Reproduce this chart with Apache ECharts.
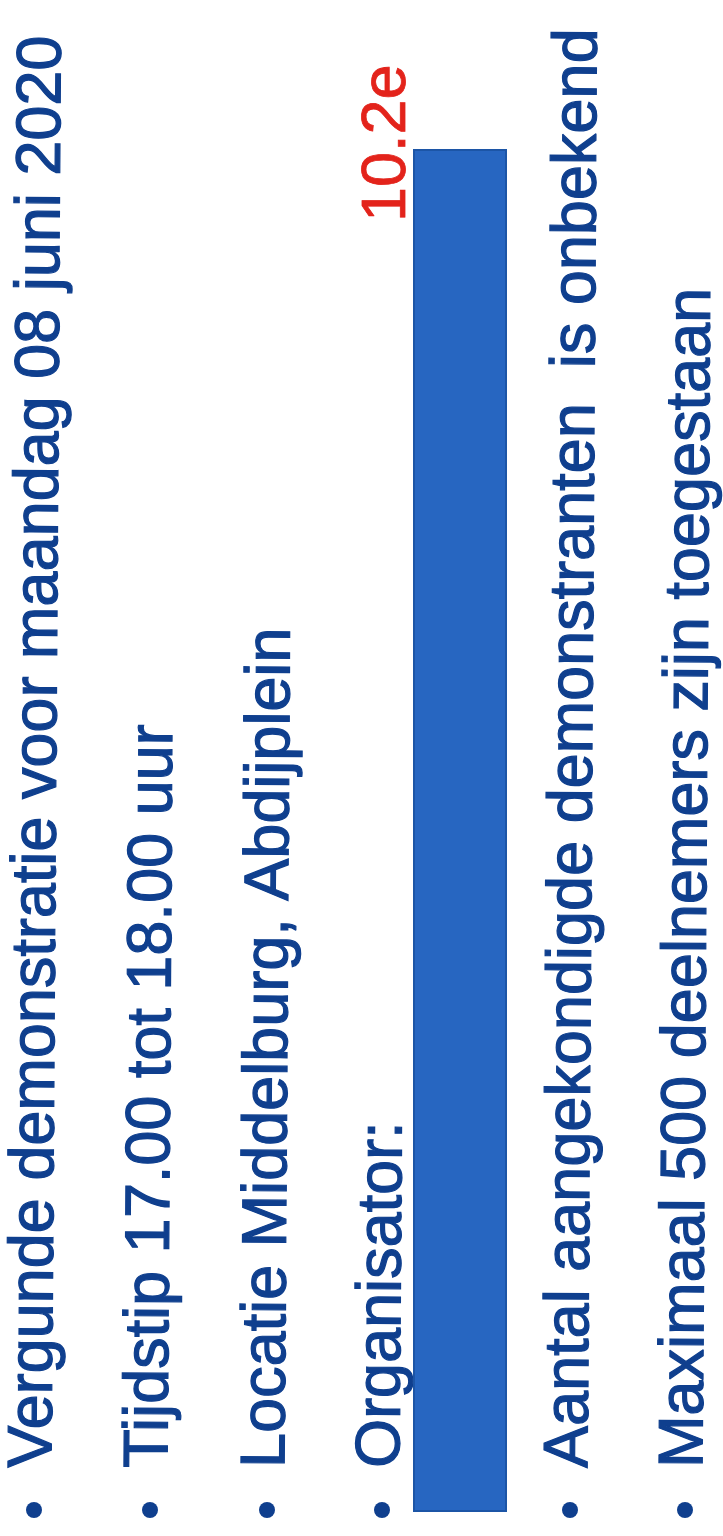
<!DOCTYPE html>
<html>
<head>
<meta charset="utf-8">
<script src="https://cdn.jsdelivr.net/npm/echarts@6/dist/echarts.min.js"></script>
<style>
html,body{margin:0;padding:0;background:#ffffff;}
#chart{width:723px;height:1536px;}
</style>
</head>
<body>
<div id="chart"></div>
<script>
// Bullet lines (text rotated, reading bottom-to-top)
var bulletLines = [
  'Vergunde demonstratie voor maandag 08 juni 2020',
  'Tijdstip 17.00 tot 18.00 uur',
  'Locatie Middelburg, Abdijplein',
  'Organisator:',
  'Aantal aangekondigde demonstranten  is onbekend',
  'Maximaal 500 deelnemers zijn toegestaan'
];
// Redaction bar (category + value) and its code label
var redactionCategories = ['Organisator'];
var redactionValues = [1];
var redactionLabel = '10.2e';

var lineCenters = [34, 150, 267, 382, 570, 685];
var textStartY = 1468;
var bulletY = 1510;
var textColor = '#0f3f8e';
var tilt = 0.0065;

var graphics = [];
bulletLines.forEach(function (t, i) {
  graphics.push({
    type: 'text',
    x: lineCenters[i],
    y: textStartY,
    rotation: Math.PI / 2 - tilt,
    z: 0,
    style: {
      text: t,
      fill: textColor,
      stroke: textColor,
      lineWidth: 1.2,
      font: '63px "Liberation Sans", Arial, sans-serif',
      align: 'left', verticalAlign: 'middle',
      textAlign: 'left', textVerticalAlign: 'middle'
    }
  });
  graphics.push({
    type: 'circle',
    z: 0,
    shape: { cx: lineCenters[i], cy: bulletY, r: 8 },
    style: { fill: textColor }
  });
});

var chart = echarts.init(document.getElementById('chart'), null, { renderer: 'canvas' });
chart.setOption({
  backgroundColor: '#ffffff',
  animation: false,
  grid: { left: 413, right: 216, top: 149, bottom: 24 },
  xAxis: { type: 'category', data: redactionCategories, show: false },
  yAxis: { type: 'value', min: 0, max: 1, show: false },
  graphic: graphics,
  series: [{
    type: 'bar',
    data: redactionValues,
    barWidth: '100%',
    z: 5,
    itemStyle: { color: '#2766c1', borderColor: '#1c55a6', borderWidth: 2 },
    label: {
      show: true,
      formatter: redactionLabel,
      rotate: 90,
      position: [-25, 73],
      align: 'left',
      verticalAlign: 'middle',
      color: '#e3231b',
      textBorderColor: '#e3231b',
      textBorderWidth: 0.8,
      fontSize: 63,
      fontFamily: '"Liberation Sans", Arial, sans-serif'
    }
  }]
});
</script>
</body>
</html>
